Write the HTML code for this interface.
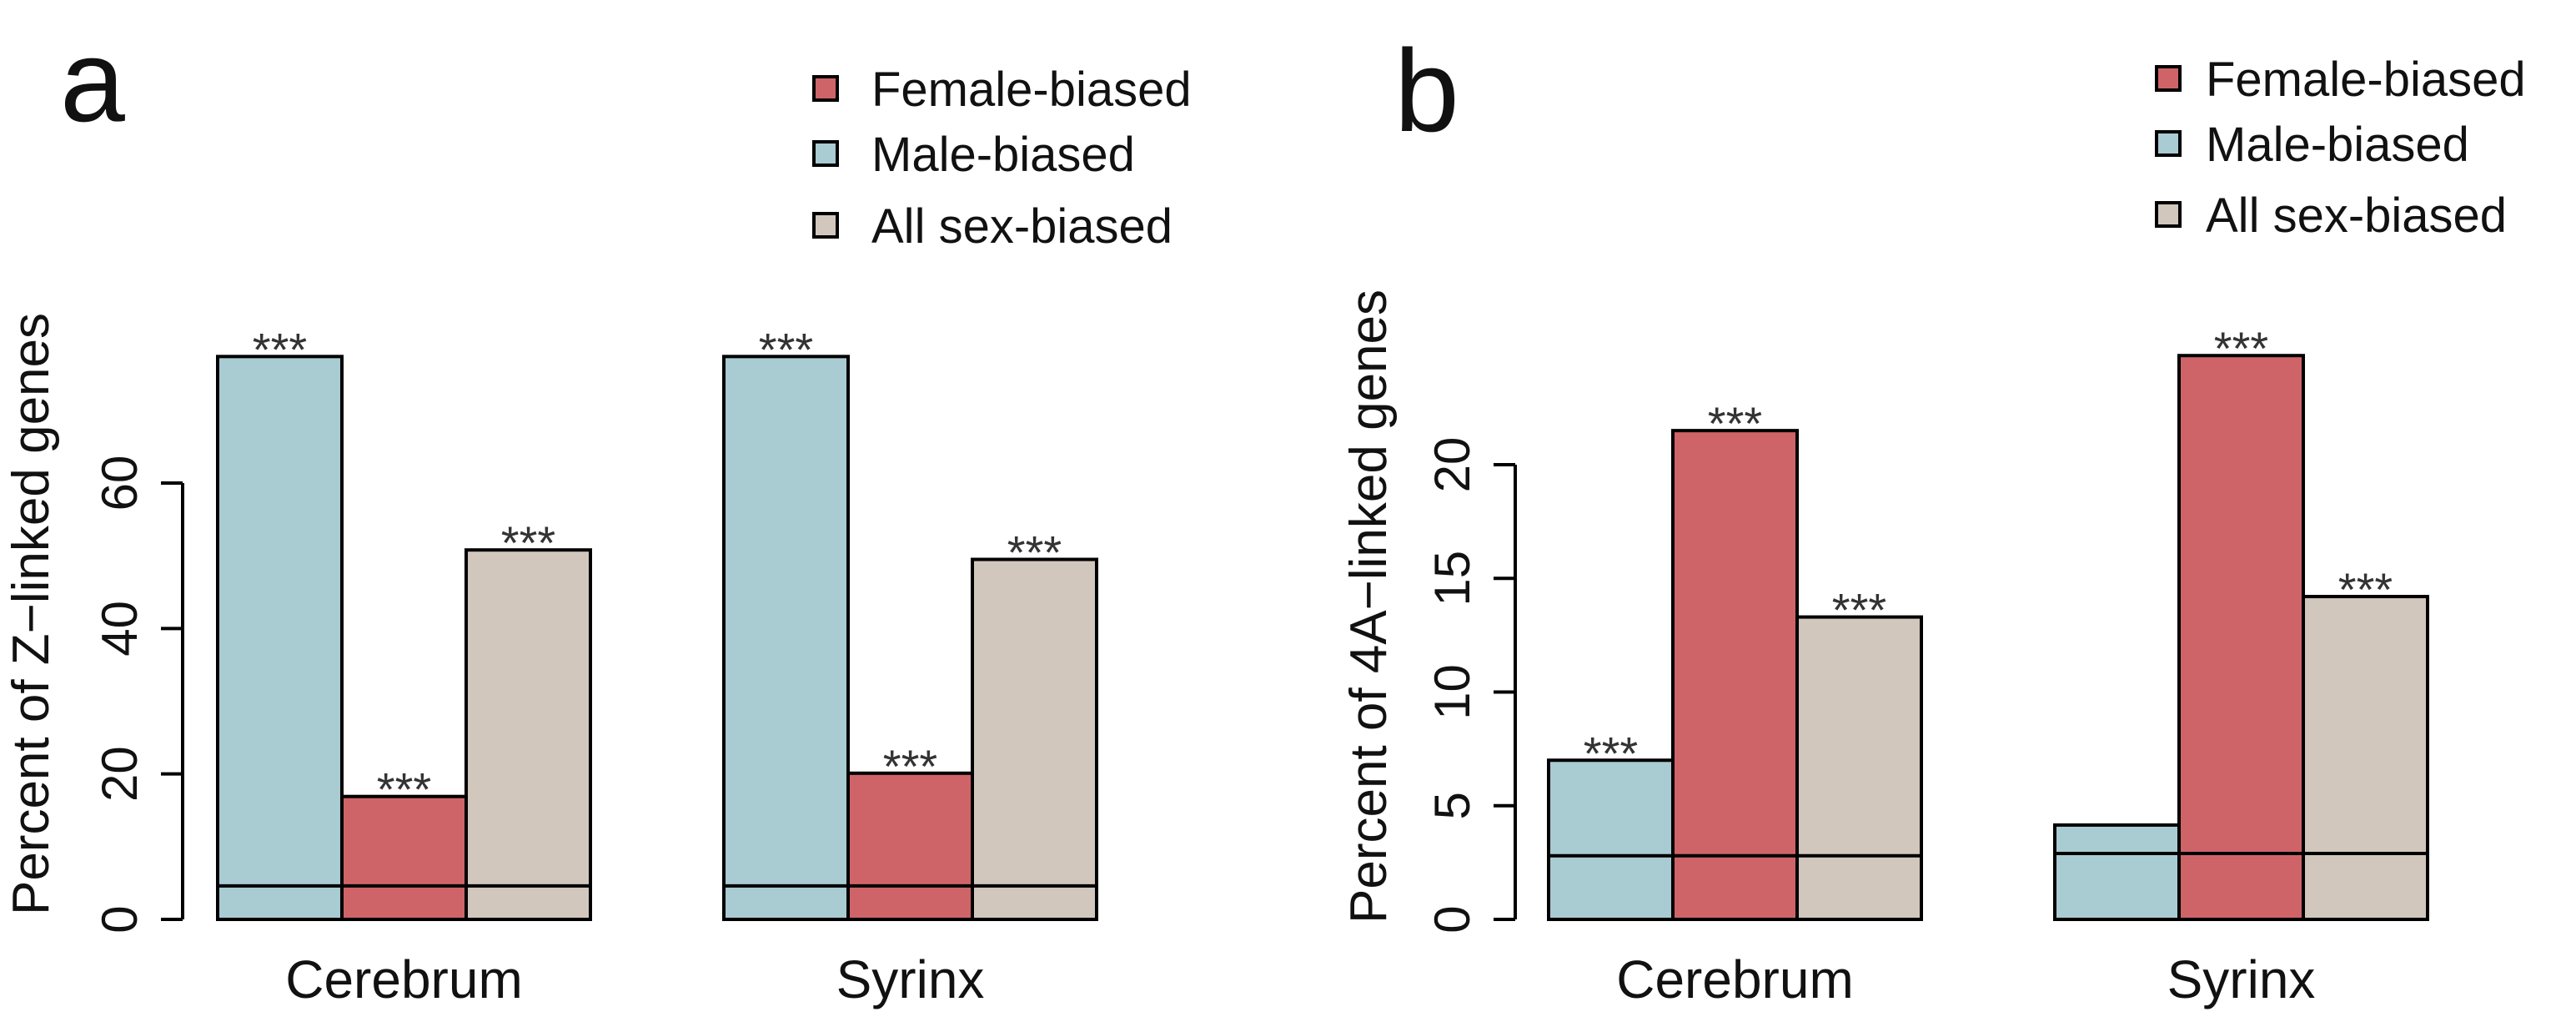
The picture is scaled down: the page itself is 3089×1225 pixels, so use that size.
<!DOCTYPE html>
<html><head><meta charset="utf-8">
<style>
html,body{margin:0;padding:0;background:#fff;}
svg{display:block;font-family:"Liberation Sans",Arial,sans-serif;}
</style></head>
<body>
<svg id="chart" width="3089" height="1225" viewBox="0 0 3089 1225" xmlns="http://www.w3.org/2000/svg">
<rect x="0" y="0" width="3089" height="1225" fill="#fff"/>
</svg>
<script>
// ---- data ----
const categories = ["Cerebrum", "Syrinx"];
const seriesNames = ["Female-biased", "Male-biased", "All sex-biased"];
// panel a: order of bars is male, female, all
const zMale = [77.4, 77.4];
const zFemale = [16.9, 20.1];
const zAll = [50.8, 49.5];
const zBaseline = [4.6, 4.6];
const zStars = [["***","***","***"],["***","***","***"]];
const zTicks = [0, 20, 40, 60];
// panel b
const aMale = [7.0, 4.15];
const aFemale = [21.5, 24.8];
const aAll = [13.3, 14.2];
const aBaseline = [2.8, 2.9];
const aStars = [["***","***","***"],["","***","***"]];
const aTicks = [0, 5, 10, 15, 20];

const NS = "http://www.w3.org/2000/svg";
const svg = document.getElementById("chart");
const COL = {male:"#a9cbd2", female:"#cf6468", all:"#d1c7bd"};

function mk(tag, attrs, parent){
  const e = document.createElementNS(NS, tag);
  for (const k in attrs) e.setAttribute(k, attrs[k]);
  (parent||svg).appendChild(e);
  return e;
}

function panel(cfg){
  const g = mk("g", {});
  
  
  const y0 = 1102;
  const y = v => y0 - v * cfg.ppu;
  // axis
  const ax = mk("line", {x1:cfg.axisX, x2:cfg.axisX, y1:y(cfg.ticks[0]), y2:y(cfg.ticks[cfg.ticks.length-1]), stroke:"#000","stroke-width":4}, g);
  
  
  cfg.ticks.forEach(t => {
    const tl = mk("line", {x1:cfg.axisX-26, x2:cfg.axisX, y1:y(t), y2:y(t), stroke:"#000","stroke-width":4}, g);
    
    
    const cx = cfg.axisX - 75;
    const tx = mk("text", {x:0, y:0, transform:`translate(${cx+20},${y(t)}) rotate(-90)`, "text-anchor":"middle", "font-size":60, fill:"#111"}, g);
    tx.textContent = t;
    
    
  });
  // title
  const tt = mk("text", {x:0, y:0, transform:`translate(${cfg.titleX+22},${cfg.titleY}) rotate(-90)`, "text-anchor":"middle", "font-size":62, fill:"#111"}, g);
  tt.textContent = cfg.title;
  
  
  // bars
  const bw = 149;
  categories.forEach((c, ci) => {
    const gx = cfg.groupX[ci];
    const vals = [cfg.male[ci], cfg.female[ci], cfg.all[ci]];
    const cols = [COL.male, COL.female, COL.all];
    const nms = ["male", "female", "all"];
    vals.forEach((v, bi) => {
      const x = gx + bi*bw;
      const r = mk("rect", {x:x, y:y(v), width:bw, height:y0-y(v), fill:cols[bi], stroke:"#000", "stroke-width":4}, g);
      
      
      const s = cfg.stars[ci][bi];
      if (s) {
        const st = mk("text", {x:x+bw/2, y:y(v)+11, "text-anchor":"middle", "font-size":56, fill:"#333"}, g);
        st.textContent = s;
        
        
      }
    });
    const bl = mk("line", {x1:gx, x2:gx+3*bw, y1:y(cfg.base[ci]), y2:y(cfg.base[ci]), stroke:"#000", "stroke-width":4}, g);
    
    
    const cl = mk("text", {x:gx+1.5*bw, y:1196, "text-anchor":"middle", "font-size":64, fill:"#111"}, g);
    cl.textContent = c;
    
    
  });
  // panel letter
  const pl = mk("text", {x:cfg.letterX, y:cfg.letterY, "font-size":140, fill:"#111"}, g);
  pl.textContent = cfg.letter;
  
  
  // legend
  const legCols = [COL.female, COL.male, COL.all];
  seriesNames.forEach((n, i) => {
    const cy = cfg.legY[i];
    const b = mk("rect", {x:cfg.legBoxX, y:cy-14, width:28, height:28, fill:legCols[i], stroke:"#000", "stroke-width":4}, g);
    
    
    const lt = mk("text", {x:cfg.legTextX, y:cy+21, "font-size":58, fill:"#111"}, g);
    lt.textContent = n;
    
    
  });
}

panel({name:"panel-a", ppu:523/60, axisX:219, ticks:zTicks, title:"Percent of Z\u2212linked genes", titleX:36, titleY:736,
  groupX:[261, 868], male:zMale, female:zFemale, all:zAll, base:zBaseline, stars:zStars,
  letter:"a", letterX:72, letterY:145, legBoxX:976, legTextX:1045, legY:[106, 184, 270]});
panel({name:"panel-b", ppu:545/20, axisX:1817, ticks:aTicks, title:"Percent of 4A\u2212linked genes", titleX:1640, titleY:727,
  groupX:[1857, 2464], male:aMale, female:aFemale, all:aAll, base:aBaseline, stars:aStars,
  letter:"b", letterX:1672, letterY:157, legBoxX:2586, legTextX:2645, legY:[94, 172, 257]});
</script>
</body></html>
